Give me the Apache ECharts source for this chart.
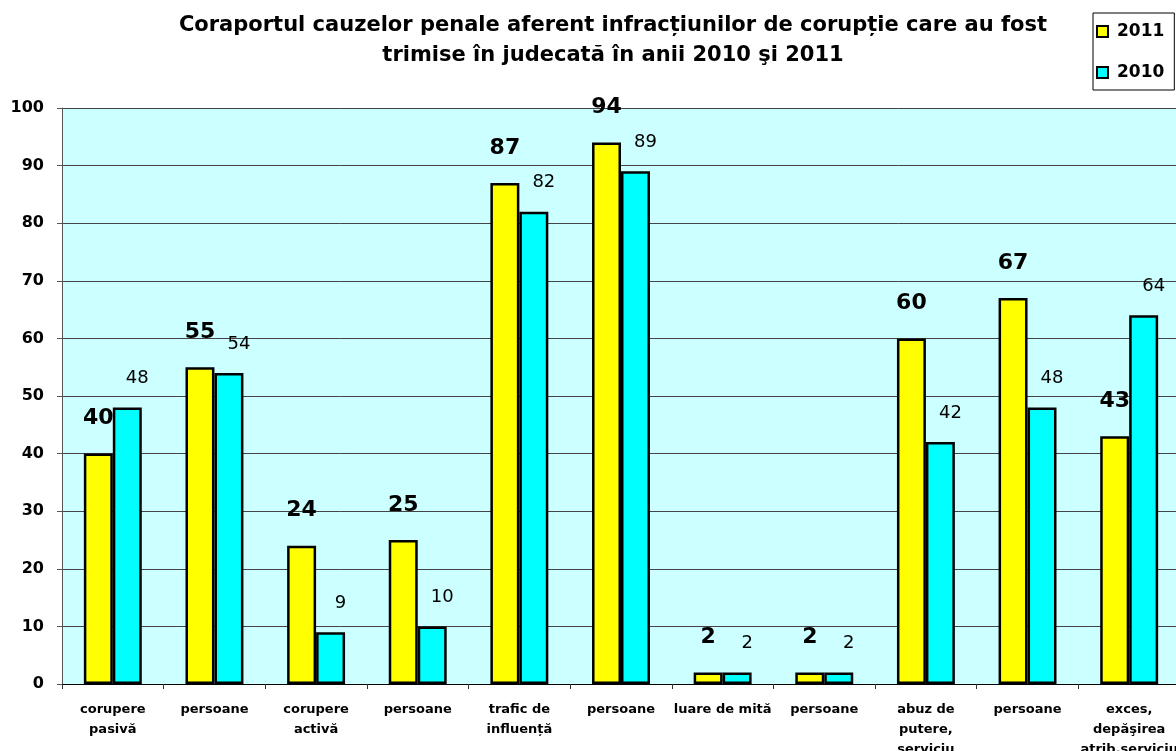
<!DOCTYPE html>
<html>
<head>
<meta charset="utf-8">
<script src="https://cdn.jsdelivr.net/npm/echarts@6/dist/echarts.min.js"></script>
<style>
    html, body { margin: 0; padding: 0; background: #ffffff; }
    #main { width: 1176px; height: 751px; }
</style>
</head>
<body>
<div id="main"></div>
<script>
// categorii si valori (cauze / persoane trimise in judecata)
let categories = ['corupere\npasivă', 'persoane', 'corupere\nactivă', 'persoane', 'trafic de\ninfluență', 'persoane',
    'luare de mită', 'persoane', 'abuz de\nputere,\nserviciu', 'persoane', 'exces,\ndepăşirea\natrib.serviciu']
let data2011 = [40, 55, 24, 25, 87, 94, 2, 2, 60, 67, 43]
let data2010 = [48, 54, 9, 10, 82, 89, 2, 2, 42, 48, 64]
let yTicks = { min: 0, max: 100, interval: 10 }

let font = 'DejaVu Sans'
let myChart = echarts.init(document.getElementById('main'))
let option = {
    backgroundColor: '#ffffff',
    animation: false,
    title: {
        text: 'Coraportul cauzelor penale aferent infracțiunilor de corupție care au fost\ntrimise în judecată în anii 2010 şi 2011',
        left: 608,
        top: 6,
        textAlign: 'center',
        textStyle: {
            fontFamily: font,
            fontSize: 21,
            fontWeight: 'bold',
            color: '#000',
            lineHeight: 30,
        },
    },
    legend: {
        orient: 'vertical',
        left: 1093,
        top: 13,
        width: 82,
        padding: [10, 10, 9, 3],
        itemGap: 24,
        itemWidth: 11,
        itemHeight: 11,
        borderColor: '#000',
        borderWidth: 1,
        icon: 'rect',
        textStyle: {
            fontFamily: font,
            fontSize: 17,
            fontWeight: 'bold',
            color: '#000',
            padding: [0, 0, 0, 4],
        },
        data: ['2011', '2010'],
    },
    grid: {
        show: true,
        backgroundColor: '#CCFFFF',
        borderWidth: 0,
        left: 62,
        top: 108,
        right: -4,
        bottom: 67,
        outerBoundsMode: 'none',
        containLabel: false,
    },
    xAxis: {
        type: 'category',
        data: categories,
        axisLine: { lineStyle: { color: '#000', width: 1 } },
        axisTick: { show: true, interval: 0, length: 5, lineStyle: { color: '#333' } },
        axisLabel: {
            interval: 0,
            margin: 16,
            fontFamily: font,
            fontSize: 13,
            fontWeight: 'bold',
            color: '#000',
            lineHeight: 20,
        },
    },
    yAxis: {
        type: 'value',
        min: yTicks.min,
        max: yTicks.max,
        interval: yTicks.interval,
        axisLine: { show: true, lineStyle: { color: '#555', width: 1 } },
        axisTick: { show: true, length: 5, lineStyle: { color: '#555' } },
        splitLine: { lineStyle: { color: '#444', width: 1 } },
        axisLabel: {
            margin: 18,
            fontFamily: font,
            fontSize: 16,
            fontWeight: 'bold',
            color: '#000',
        },
    },
    series: [
        {
            name: '2011',
            type: 'bar',
            data: data2011,
            barGap: '0%',
            barCategoryGap: '43%',
            itemStyle: { color: '#FFFF00', borderColor: '#000', borderWidth: 2.5 },
            label: {
                show: true,
                position: 'top',
                distance: 24,
                fontFamily: font,
                fontSize: 22,
                fontWeight: 'bold',
                color: '#000',
            },
        },
        {
            name: '2010',
            type: 'bar',
            data: data2010,
            itemStyle: { color: '#00FFFF', borderColor: '#000', borderWidth: 2.5 },
            label: {
                show: true,
                position: 'top',
                distance: 20,
                offset: [10, 0],
                fontFamily: font,
                fontSize: 18,
                color: '#000',
            },
        },
    ],
}
myChart.setOption(option)
</script>
</body>
</html>
